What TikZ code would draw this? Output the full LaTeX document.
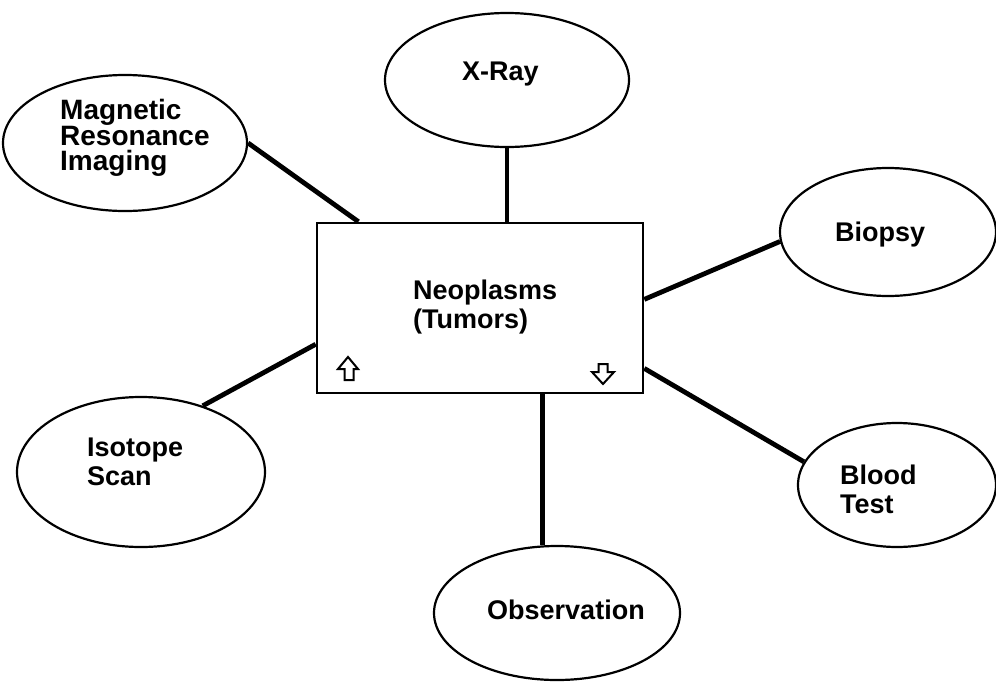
\documentclass[tikz,border=0pt]{standalone}
\usepackage{fontspec}
\setmainfont{Liberation Sans}
\usetikzlibrary{shapes.geometric,calc}
\begin{document}
\begin{tikzpicture}[x=1pt,y=-1pt,
  oval/.style={draw,ellipse,line width=2.2pt,inner sep=0pt},
  topic/.style={draw,rectangle,line width=2.6pt,inner sep=0pt,
    minimum width=326pt,minimum height=170pt},
  lbl/.style={anchor=west,align=left,inner sep=0pt,
    font=\fontsize{27}{29}\selectfont\bfseries},
  link/.style={line width=4.8pt},
  hollow/.style={draw,line width=2pt,fill=white,line join=miter}]
\useasboundingbox (0,0) rectangle (996,683);

% central topic box
\node[topic] (tumor) at (480,308) {};
\node[lbl] (tumorT) at (413,307.5) {Neoplasms\\(Tumors)};

% surrounding ovals
\node[oval,minimum width=244pt,minimum height=136pt] (mri) at (125,143) {};
\node[oval,minimum width=244pt,minimum height=134pt] (xray) at (507,80) {};
\node[oval,minimum width=216pt,minimum height=128pt] (biopsy) at (888,232) {};
\node[oval,minimum width=248pt,minimum height=150pt] (iso) at (141,472) {};
\node[oval,minimum width=198pt,minimum height=124pt] (blood) at (897,485) {};
\node[oval,minimum width=246pt,minimum height=134pt] (obs) at (557,613) {};

% oval labels
\node[lbl,font=\fontsize{28}{25.5}\selectfont\bfseries] (mriT) at (60,138) {Magnetic\\Resonance\\Imaging};
\node[lbl] (xrayT) at (462,74) {X-Ray};
\node[lbl] (biopsyT) at (835,235) {Biopsy};
\node[lbl] (isoT) at (87,462) {Isotope\\Scan};
\node[lbl] (bloodT) at (840,489) {Blood\\Test};
\node[lbl] (obsT) at (487,610) {Observation};

% connectors
\coordinate (tN1) at ($(tumor.north west)!0.13!(tumor.north east)$);
\coordinate (tE1) at ($(tumor.north east)!0.45!(tumor.south east)$);
\coordinate (tE2) at ($(tumor.north east)!0.85!(tumor.south east)$);
\coordinate (tW1) at ($(tumor.north west)!0.71!(tumor.south west)$);
\coordinate (tS1) at ($(tumor.south west)!0.69!(tumor.south east)$);
\draw[link] (mri.east) -- (tN1);
\draw[link] (xray.south) -- (xray.south |- tumor.north);
\draw[link] (biopsy.185) -- (tE1);
\draw[link] (blood.166) -- (tE2);
\draw[link] (iso.47) -- (tW1);
\draw[link] (tS1) -- (tS1 |- obs.north);

% page arrows in the box corners
\draw[hollow] (348,357) -- (358,369) -- (353.5,369) -- (353.5,380)
  -- (344.5,380) -- (344.5,369) -- (338,369) -- cycle;
\draw[hollow] (603,384) -- (614,372) -- (607.5,372) -- (607.5,364)
  -- (598.5,364) -- (598.5,372) -- (592,372) -- cycle;
\end{tikzpicture}
\end{document}
